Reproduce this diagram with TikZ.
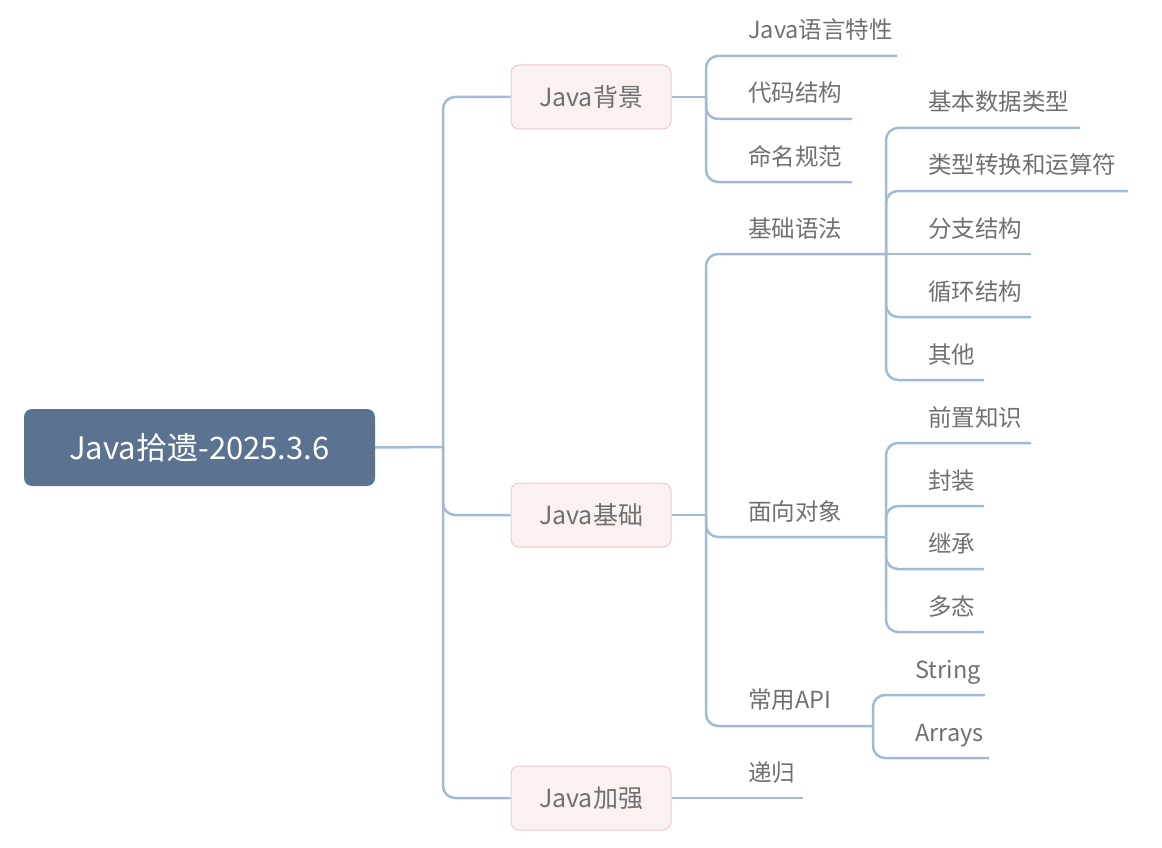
\documentclass[tikz,border=0pt]{standalone}
\usepackage{fontspec}
\setmainfont{Noto Sans CJK SC}
\definecolor{lineblue}{HTML}{A3BAD3}
\definecolor{rootfill}{HTML}{5B7290}
\definecolor{topfill}{HTML}{FCF1F1}
\definecolor{topdraw}{HTML}{EFCACA}
\definecolor{txtgray}{HTML}{707070}
\begin{document}
\begin{tikzpicture}[x=1pt,y=-1pt,
  conn/.style={draw=lineblue, line width=2.5pt},
  curvedconn/.style={conn, rounded corners=12pt},
  rootbox/.style={fill=rootfill, draw=none, rounded corners=8pt, minimum width=351pt, minimum height=77pt, text=white, font=\fontsize{31}{36}\selectfont, inner sep=0pt},
  topbox/.style={fill=topfill, draw=topdraw, line width=1pt, rounded corners=8pt, minimum width=160pt, minimum height=64pt, text=txtgray, font=\fontsize{25}{30}\selectfont, inner sep=0pt},
  leaf/.style={anchor=base west, inner sep=0pt, text=txtgray, font=\fontsize{23.5}{28}\selectfont}]
\useasboundingbox (0,0) rectangle (1162,848);

% root and level 1
\node[rootbox] (root) at (199.5,447.5) {Java拾遗-2025.3.6};
\node[topbox] (bg) at (591,97) {Java背景};
\node[topbox] (jc) at (591,515) {Java基础};
\node[topbox] (jq) at (591,798) {Java加强};

% trunk
\coordinate (t0) at (443,447);
\draw[conn] (root.east) -- (t0);
\draw[curvedconn] (t0) |- (bg.west);
\draw[curvedconn] (t0) |- (jc.west);
\draw[curvedconn] (t0) |- (jq.west);

% Java背景 children
\node[leaf] (yy) at (748,39) {Java语言特性};
\node[leaf] (dm) at (748,102) {代码结构};
\node[leaf] (mm) at (748,165) {命名规范};
\coordinate (bgj) at (706,97);
\coordinate (yye) at (897,56);
\coordinate (dme) at (852,119);
\coordinate (mme) at (852,182);
\draw[conn] (bg.east) -- (bgj);
\draw[curvedconn] (bgj) |- (yye);
\draw[curvedconn] (bgj) |- (dme);
\draw[curvedconn] (bgj) |- (mme);

% Java基础 children
\node[leaf] (yf) at (748,237) {基础语法};
\node[leaf] (mx) at (748,520) {面向对象};
\node[leaf] (api) at (748,708) {常用API};
\coordinate (jcj) at (706,515);
\coordinate (yfe) at (886,254);
\coordinate (mxe) at (886,537);
\coordinate (apie) at (873,726);
\draw[conn] (jc.east) -- (jcj);
\draw[curvedconn] (jcj) |- (yfe);
\draw[curvedconn] (jcj) |- (mxe);
\draw[curvedconn] (jcj) |- (apie);

% 基础语法 children
\node[leaf] (s1) at (928,111) {基本数据类型};
\node[leaf] (s2) at (928,174) {类型转换和运算符};
\node[leaf] (s3) at (928,237) {分支结构};
\node[leaf] (s4) at (928,300) {循环结构};
\node[leaf] (s5) at (928,363) {其他};
\coordinate (s1e) at (1080,128);
\coordinate (s2e) at (1128,191);
\coordinate (s3e) at (1031,254);
\coordinate (s4e) at (1031,317);
\coordinate (s5e) at (984,380);
\draw[curvedconn] (yfe) |- (s1e);
\draw[curvedconn] (yfe) |- (s2e);
\draw[conn] (yfe) -- (s3e);
\draw[curvedconn] (yfe) |- (s4e);
\draw[curvedconn] (yfe) |- (s5e);

% 面向对象 children
\node[leaf] (o1) at (928,426) {前置知识};
\node[leaf] (o2) at (928,489) {封装};
\node[leaf] (o3) at (928,552) {继承};
\node[leaf] (o4) at (928,615) {多态};
\coordinate (o1e) at (1031,443);
\coordinate (o2e) at (984,506);
\coordinate (o3e) at (984,569);
\coordinate (o4e) at (984,632);
\draw[curvedconn] (mxe) |- (o1e);
\draw[curvedconn] (mxe) |- (o2e);
\draw[curvedconn] (mxe) |- (o3e);
\draw[curvedconn] (mxe) |- (o4e);

% 常用API children
\node[leaf] (a1) at (915,678) {String};
\node[leaf] (a2) at (915,741) {Arrays};
\coordinate (a1e) at (985,695);
\coordinate (a2e) at (989,758);
\draw[curvedconn] (apie) |- (a1e);
\draw[curvedconn] (apie) |- (a2e);

% Java加强 child
\node[leaf] (dg) at (748,781) {递归};
\coordinate (dge) at (803,798);
\draw[conn] (jq.east) -- (dge);
\end{tikzpicture}
\end{document}
